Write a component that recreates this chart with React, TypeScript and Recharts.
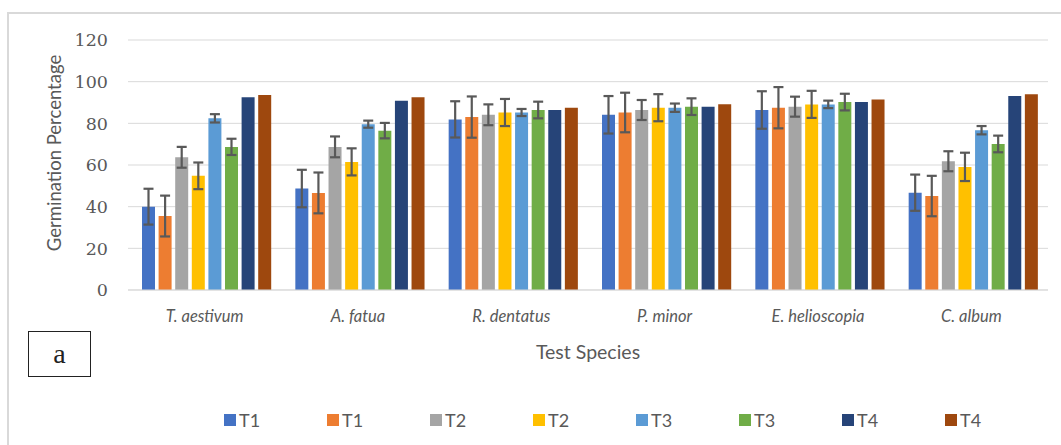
import React from 'react';
import { BarChart, Bar, XAxis, YAxis, CartesianGrid, Legend, ErrorBar, Label } from 'recharts';

// categories
const species = ['T. aestivum', 'A. fatua', 'R. dentatus', 'P. minor', 'E. helioscopia', 'C. album'];

// series values (germination %) and their error amounts
const t1a = [40, 48.7, 81.9, 84.1, 86.4, 46.7];
const t1aErr = [8.6, 9, 8.7, 9, 9, 8.7];
const t1b = [35.5, 46.6, 83, 85.2, 87.5, 45.1];
const t1bErr = [9.8, 9.8, 9.9, 9.5, 9.9, 9.7];
const t2a = [63.7, 68.7, 84.1, 86.4, 88, 61.8];
const t2aErr = [5, 5, 5, 4.8, 4.8, 4.8];
const t2b = [54.8, 61.5, 85.2, 87.5, 89.1, 59.1];
const t2bErr = [6.4, 6.5, 6.5, 6.5, 6.5, 6.8];
const t3a = [82.4, 79.6, 85.2, 87.5, 89.1, 76.7];
const t3aErr = [2, 1.7, 1.7, 2, 1.8, 2];
const t3b = [68.7, 76.5, 86.4, 88, 90.2, 70.1];
const t3bErr = [3.9, 3.7, 4, 4, 4, 4];
const t4a = [92.5, 90.9, 86.4, 88, 90.2, 93.1];
const t4b = [93.6, 92.5, 87.5, 89.2, 91.5, 94];

const yTicks = [0, 20, 40, 60, 80, 100, 120];

const seriesKeys = ['t1a', 't1b', 't2a', 't2b', 't3a', 't3b', 't4a', 't4b'];
const seriesNames = ['T1', 'T1', 'T2', 'T2', 'T3', 'T3', 'T4', 'T4'];
const seriesColors = ['#4472C4', '#ED7D31', '#A5A5A5', '#FFC000', '#5B9BD5', '#70AD47', '#264478', '#9E480E'];
const hasErr = [true, true, true, true, true, true, false, false];

const data = species.map((name, i) => ({
    name,
    t1a: t1a[i], t1aErr: t1aErr[i],
    t1b: t1b[i], t1bErr: t1bErr[i],
    t2a: t2a[i], t2aErr: t2aErr[i],
    t2b: t2b[i], t2bErr: t2bErr[i],
    t3a: t3a[i], t3aErr: t3aErr[i],
    t3b: t3b[i], t3bErr: t3bErr[i],
    t4a: t4a[i],
    t4b: t4b[i],
}));

const textGray = '#595959';
const sans = 'Lato, "Open Sans", sans-serif';

const LegendRow = () => (
    <div style={{ display: 'flex', height: 24, alignItems: 'center', paddingLeft: 224 }}>
        {seriesNames.map((n, i) => (
            <div key={i} style={{ width: 105, display: 'flex', alignItems: 'center' }}>
                <span style={{ width: 12, height: 12, background: seriesColors[i], display: 'inline-block', marginRight: 3 }} />
                <span style={{ fontFamily: sans, fontSize: 18, color: textGray }}>{n}</span>
            </div>
        ))}
    </div>
);

export default function App() {
    return (
        <div style={{ position: 'absolute', left: 0, top: 0, width: 1061, height: 445, background: '#fff', overflow: 'hidden' }}>
            {/* outer frame */}
            <div style={{ position: 'absolute', left: 7, top: 12, width: 1070, height: 450, borderTop: '2px solid #d9d9d9', borderLeft: '2px solid #d9d9d9' }} />
            <BarChart
                width={1061}
                height={445}
                data={data}
                margin={{ top: 40, right: 13, left: 0, bottom: 13 }}
                barCategoryGap={14}
                barGap={3.6}
                style={{ position: 'absolute', left: 0, top: 0 }}
            >
                <CartesianGrid vertical={false} stroke="#d9d9d9" strokeWidth={1} />
                <XAxis
                    dataKey="name"
                    height={118}
                    axisLine={{ stroke: '#d9d9d9' }}
                    tickLine={false}
                    tickSize={0}
                    tickMargin={20}
                    tick={{ fill: textGray, fontSize: 16.5, fontStyle: 'italic', fontFamily: sans }}
                >
                    <Label
                        content={({ viewBox }: any) => (
                            <text x={viewBox.x + viewBox.width / 2} y={viewBox.y + 62} dy="0.35em" textAnchor="middle" fill={textGray} fontSize={19.5} fontFamily={sans}>
                                Test Species
                            </text>
                        )}
                    />
                </XAxis>
                <YAxis
                    width={128}
                    domain={[0, 120]}
                    ticks={yTicks}
                    axisLine={false}
                    tickLine={false}
                    tickSize={0}
                    tickMargin={20}
                    tick={{ fill: textGray, fontSize: 17.5, fontFamily: '"DejaVu Serif", serif' }}
                >
                    <Label
                        content={() => (
                            <text x={55} y={153} dy="0.35em" textAnchor="middle" transform="rotate(-90 55 153)" fill={textGray} fontSize={18.5} fontFamily={sans}>
                                Germination Percentage
                            </text>
                        )}
                    />
                </YAxis>
                <Legend verticalAlign="bottom" align="left" content={() => <LegendRow />} />
                {seriesKeys.map((k, i) => (
                    <Bar key={k} dataKey={k} name={seriesNames[i]} fill={seriesColors[i]} isAnimationActive={false}>
                        {hasErr[i] && (
                            <ErrorBar dataKey={k + 'Err'} direction="y" width={5} strokeWidth={2.2} stroke="#595959" />
                        )}
                    </Bar>
                ))}
            </BarChart>
            {/* panel tag */}
            <div style={{ position: 'absolute', left: 28, top: 331, width: 61, height: 44, border: '1px solid #222', display: 'flex', alignItems: 'center', justifyContent: 'center', fontFamily: '"Liberation Serif", serif', fontSize: 28, color: '#222' }}>
                a
            </div>
        </div>
    );
}
